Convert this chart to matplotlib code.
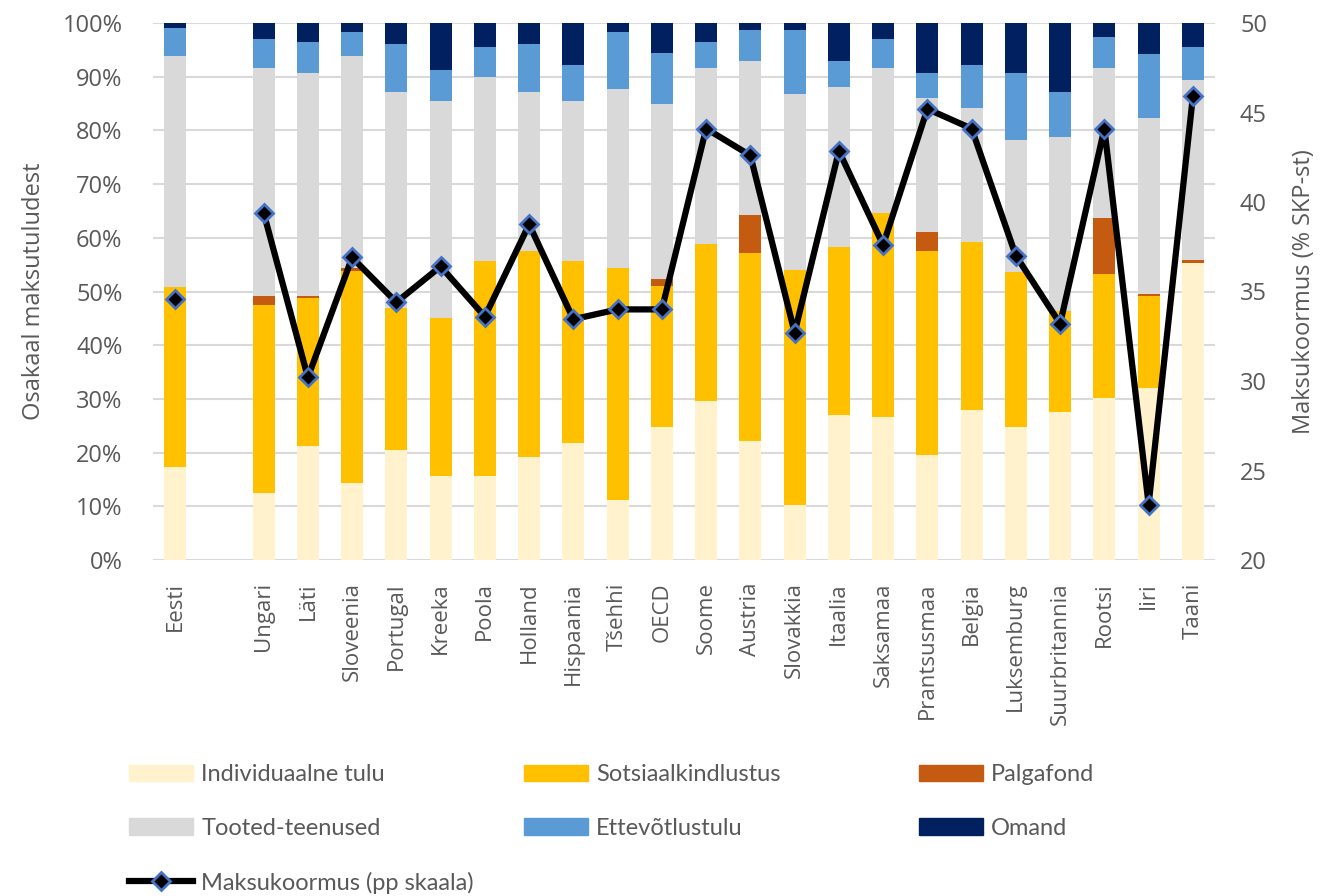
import numpy as np
import matplotlib.pyplot as plt
from matplotlib.patches import Patch
from matplotlib.lines import Line2D

nan = np.nan

# Riigid (tühi koht Eesti järel)
riigid = ['Eesti', '', 'Ungari', 'Läti', 'Sloveenia', 'Portugal', 'Kreeka', 'Poola',
          'Holland', 'Hispaania', 'Tšehhi', 'OECD', 'Soome', 'Austria', 'Slovakkia',
          'Itaalia', 'Saksamaa', 'Prantsusmaa', 'Belgia', 'Luksemburg',
          'Suurbritannia', 'Rootsi', 'Iiri', 'Taani']

# Maksutulude struktuur (% maksutuludest)
individuaalne = [17.3, 0, 12.5, 21.3, 14.3, 20.4, 15.6, 15.6, 19.1, 21.7, 11.2, 24.8,
                 29.7, 22.2, 10.2, 27.0, 26.7, 19.6, 27.9, 24.8, 27.5, 30.1, 32.0, 55.4]
sotsiaal = [33.6, 0, 34.9, 27.4, 39.6, 26.5, 29.5, 40.1, 38.4, 34.0, 43.2, 26.2,
            29.1, 34.9, 43.8, 31.3, 37.9, 38.0, 31.4, 28.8, 18.9, 23.1, 17.2, 0.0]
palgafond = [0.0, 0, 1.8, 0.5, 0.5, 0.0, 0.0, 0.0, 0.0, 0.0, 0.0, 1.3,
             0.0, 7.1, 0.0, 0.0, 0.0, 3.5, 0.0, 0.0, 0.0, 10.5, 0.3, 0.4]
tooted = [43.0, 0, 42.5, 41.5, 39.5, 40.3, 40.4, 34.2, 29.7, 29.8, 33.3, 32.7,
          32.9, 28.7, 32.8, 29.8, 27.1, 24.9, 24.9, 24.7, 32.4, 28.0, 32.9, 33.6]
ettevotlus = [5.2, 0, 5.3, 5.8, 4.4, 8.9, 5.7, 5.7, 8.9, 6.6, 10.6, 9.4,
              4.8, 5.8, 11.9, 4.8, 5.3, 4.7, 7.9, 12.4, 8.4, 5.7, 11.9, 6.2]
omand = [0.9, 0, 3.0, 3.5, 1.7, 3.9, 8.8, 4.4, 3.9, 7.9, 1.7, 5.6,
         3.5, 1.3, 1.3, 7.1, 3.0, 9.3, 7.9, 9.3, 12.8, 2.6, 5.7, 4.4]

# Maksukoormus (% SKP-st), parem skaala
koormus = [34.6, nan, 39.4, 30.2, 36.9, 34.4, 36.4, 33.6, 38.75, 33.45, 34.0, 34.0,
           44.1, 42.6, 32.7, 42.85, 37.6, 45.2, 44.1, 37.0, 33.2, 44.1, 23.1, 45.9]

seeriad = [
    ('Individuaalne tulu', individuaalne, '#FFF2CC'),
    ('Sotsiaalkindlustus', sotsiaal, '#FFC000'),
    ('Palgafond', palgafond, '#C55A11'),
    ('Tooted-teenused', tooted, '#D9D9D9'),
    ('Ettevõtlustulu', ettevotlus, '#5B9BD5'),
    ('Omand', omand, '#002060'),
]

tekst = '#595959'
plt.rcParams['font.family'] = ['Open Sans', 'DejaVu Sans']

fig = plt.figure(figsize=(13.24, 8.96), dpi=100)
ax = fig.add_axes([153 / 1324, 1 - 560 / 896, 1062 / 1324, 537 / 896])

x = np.arange(len(riigid))
pohi = np.zeros(len(riigid))
for nimi, vaartus, varv in seeriad:
    v = np.array(vaartus)
    ax.bar(x, v, 0.5, bottom=pohi, color=varv, zorder=2)
    pohi += v

ax.set_xlim(-0.5, len(riigid) - 0.5)
ax.set_ylim(0, 100)
ax.set_yticks(np.arange(0, 101, 10))
ax.set_yticklabels([f'{t}%' for t in range(0, 101, 10)])
ax.grid(axis='y', color='#D9D9D9', lw=1.5, zorder=0)
ax.set_axisbelow(True)
ax.set_xticks(x)
ax.set_xticklabels(riigid, rotation=90, va='top', ha='center')
for s in ax.spines.values():
    s.set_visible(False)
ax.tick_params(length=0, labelsize=17, colors=tekst)
ax.tick_params(axis='x', pad=16, labelsize=16)
ax.tick_params(axis='y', pad=22)
ax.set_ylabel('Osakaal maksutuludest', fontsize=17, color=tekst, labelpad=12)

ax2 = ax.twinx()
ax2.plot(x, koormus, color='black', lw=4.5, marker='D', markersize=9,
         markerfacecolor='black', markeredgecolor='#4472C4', markeredgewidth=2, zorder=5)
ax2.set_ylim(20, 50)
ax2.set_yticks(np.arange(20, 51, 5))
for s in ax2.spines.values():
    s.set_visible(False)
ax2.tick_params(length=0, labelsize=17, colors=tekst, pad=18)
ax2.set_ylabel('Maksukoormus (% SKP-st)', fontsize=17, color=tekst, labelpad=18)

# legend kolmes veerus, iga veerg eraldi
h = {nimi: Patch(color=varv) for nimi, _, varv in seeriad}
h['Maksukoormus (pp skaala)'] = Line2D([0], [0], color='black', lw=4.5, marker='D',
                                       markersize=9, markerfacecolor='black',
                                       markeredgecolor='#4472C4', markeredgewidth=2)
veerud = [
    (108, ['Individuaalne tulu', 'Tooted-teenused', 'Maksukoormus (pp skaala)']),
    (503, ['Sotsiaalkindlustus', 'Ettevõtlustulu']),
    (898, ['Palgafond', 'Omand']),
]
for vx, nimed in veerud:
    fig.legend([h[k] for k in nimed], nimed, loc='upper left',
               bbox_to_anchor=(vx / 1324, 1 - 743 / 896), frameon=False,
               prop={'family': 'Lato', 'size': 17}, handlelength=2.7, handleheight=0.72,
               handletextpad=0.35, labelspacing=1.38, labelcolor=tekst)

fig.savefig('out.png', dpi=100)
